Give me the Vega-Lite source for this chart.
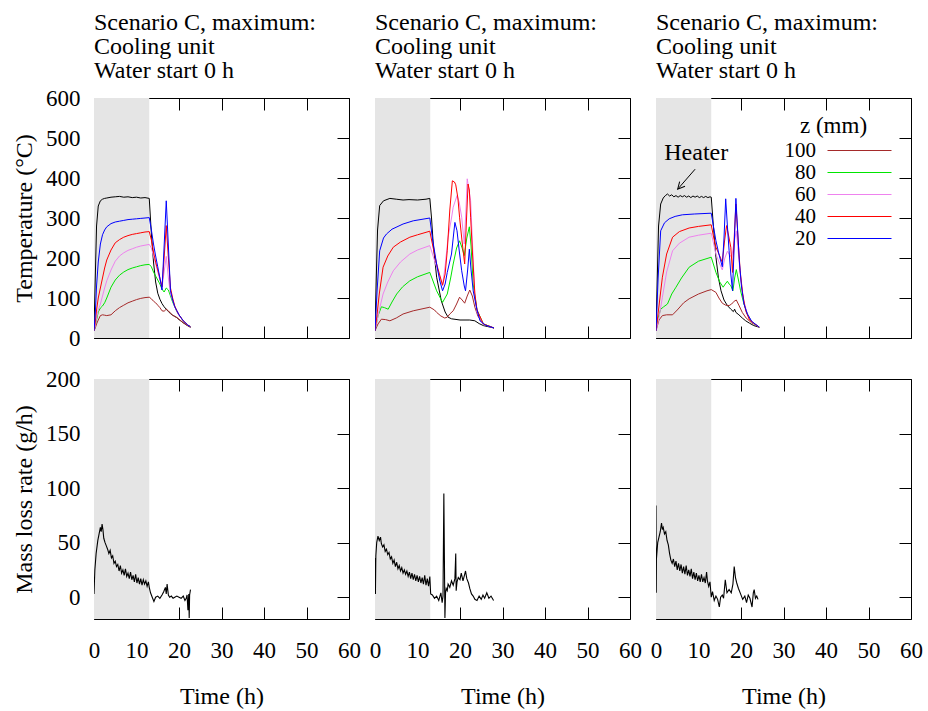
{
"$schema":"https://vega.github.io/schema/vega-lite/v6.json",
"background":"white",
"padding":{"left":12,"top":10,"right":0,"bottom":0},
"config":{
 "font":"Liberation Serif",
 "view":{"stroke":"black","strokeWidth":1},
 "axis":{"domain":false,"grid":false,"tickSize":-12,"tickColor":"black","tickWidth":1,"labelFont":"Liberation Serif","labelFontSize":23,"labelColor":"black","titleFont":"Liberation Serif","titleFontSize":24,"titleFontWeight":"normal","titleColor":"black","labelFlush":false,"labelOverlap":false},
 "title":{"fontSize":24,"fontWeight":"normal","anchor":"start","frame":"group","lineHeight":24,"offset":15,"color":"black","font":"Liberation Serif"}
},
"datasets":{
 "temp":[
  {"p":1,"s":"Heater","t":[0,0.3,0.6,1,1.5,2,2.5,3,4,5,6,7,8,9,10,11,12,13,13.5,14,14.5,15,15.5,16,16.5,17,17.5,18,18.5,19,19.5,20,21,22,22.7],"v":[22,150,280,330,343,347,349,350,352,353,354,352,353,351,352,350,351,349,260,190,140,112,97,86,78,72,66,61,57,54,51,46,38,31,27]},
  {"p":1,"s":"100","t":[0,0.3,0.6,1,1.5,2,2.5,3,4,5,6,7,8,9,10,11,12,13,13.5,14,14.5,15,15.5,16,16.5,17,17.5,18,18.5,19,19.5,20,21,22,22.7],"v":[18,25,35,45,56,58,57,56,58,68,76,82,88,92,96,99,101,102,98,92,88,82,76,68,67,72,68,62,57,54,51,47,38,31,27]},
  {"p":1,"s":"80","t":[0,0.3,0.6,1,1.5,2,2.5,3,4,5,6,7,8,9,10,11,12,13,13.5,14,14.5,15,15.5,16,16.5,17,17.5,18,18.5,19,19.5,20,21,22,22.7],"v":[18,30,45,65,75,80,88,100,127,145,157,165,171,175,178,181,183,184,178,165,155,145,135,122,115,125,120,105,90,78,66,57,43,33,28]},
  {"p":1,"s":"60","t":[0,0.3,0.6,1,1.5,2,2.5,3,4,5,6,7,8,9,10,11,12,13,13.5,14,14.5,15,15.5,16,16.5,17,17.5,18,18.5,19,19.5,20,21,22,22.7],"v":[18,30,50,70,85,105,125,143,170,192,205,213,219,223,227,230,232,234,225,205,185,165,145,127,165,204,150,110,95,78,66,56,43,33,28]},
  {"p":1,"s":"40","t":[0,0.3,0.6,1,1.5,2,2.5,3,4,5,6,7,8,9,10,11,12,13,13.5,14,14.5,15,15.5,16,16.5,17,17.5,18,18.5,19,19.5,20,21,22,22.7],"v":[18,40,70,100,125,150,175,195,220,238,246,252,256,259,261,263,265,266,245,215,190,170,150,128,200,281,200,125,100,80,68,58,43,33,28]},
  {"p":1,"s":"20","t":[0,0.3,0.6,1,1.5,2,2.5,3,4,5,6,7,8,9,10,11,12,13,13.5,14,14.5,15,15.5,16,16.5,17,17.5,18,18.5,19,19.5,20,21,22,22.7],"v":[18,60,130,190,235,258,270,278,286,290,292,294,296,297,298,299,300,301,270,235,205,178,150,120,230,343,230,118,95,78,68,58,43,33,28]},
  {"p":2,"s":"Heater","t":[0,0.3,0.6,1.1,2,3.5,5,6.6,8,10,12,12.9,13.3,13.7,14.5,15.6,16.5,17.2,18,20,22.3,23.5,24.5,25.5,28],"v":[20,150,270,331,343,349,347,345,346,345,347,349,300,235,152,93,65,52,48,45,45,43,36,31,25]},
  {"p":2,"s":"100","t":[0,0.7,1.5,2.5,3.5,5,6.6,9,12.9,14,14.5,15.5,16.4,17,17.6,18.4,19.2,19.9,20.5,21.1,21.7,22.3,22.9,23.5,24.2,25.5,28],"v":[18,35,47,46,43,50,60,68,77,70,64,55,50,52,60,68,85,102,95,87,105,120,105,77,55,35,25]},
  {"p":2,"s":"80","t":[0,0.7,1.5,2.2,3.1,4,5.1,6.5,8.2,10,12.9,14.5,15.9,17,17.8,18.4,19.2,19.9,20.5,21,21.6,22.2,22.6,23.1,24,25.5,28],"v":[18,55,78,76,72,90,110,128,143,153,164,118,89,110,150,185,225,243,225,206,250,278,230,135,70,35,25]},
  {"p":2,"s":"60","t":[0,1,1.9,3,4.3,6,8.2,10,12.9,14.5,15.9,16.5,17.2,18,18.4,19.3,19.8,20.4,21,21.4,21.7,22.1,22.5,23,23.5,24,25.5,28],"v":[18,70,110,140,168,190,210,220,231,177,131,180,252,300,327,356,340,302,235,320,398,370,343,220,102,65,34,25]},
  {"p":2,"s":"40","t":[0,0.5,1,1.9,3,4.3,6,8.2,10,12.9,13.5,14.5,15.9,16.5,17,17.6,18.2,18.7,19,19.5,19.9,20.5,21.1,21.5,21.9,22.2,22.5,23,23.5,24,25.5,28],"v":[18,60,110,177,205,227,240,252,258,267,235,185,132,160,218,320,393,390,383,350,302,240,185,290,385,370,302,200,110,70,35,25]},
  {"p":2,"s":"20","t":[0,0.5,1.1,2,2.7,4,6.6,9,12.9,13.5,14.5,15.2,15.9,16.5,17,18,18.5,18.8,19.3,19.8,20.4,21,21.3,21.8,22.2,22.6,23.1,24,24.7,26,28],"v":[18,120,218,250,260,272,285,293,300,250,185,145,118,135,164,210,260,289,268,220,168,130,118,170,222,170,118,70,43,32,25]},
  {"p":3,"s":"Heater","t":[0,0.3,0.6,1.1,1.7,2.2,2.7,3.2,3.7,4.2,4.7,5.2,5.7,6.2,6.7,7.2,7.7,8.2,8.7,9.2,9.7,10.2,10.7,11.2,11.7,12.2,12.7,13,13.5,14.1,14.7,15.3,16,16.8,17.6,18.2,18.5,18.8,19.5,20.3,21.1,22,23,24.3],"v":[20,150,280,335,350,356,360,355,358,353,356,352,356,353,356,352,355,351,355,352,355,351,354,351,354,351,353,352,280,202,150,118,95,81,72,66,72,64,58,50,43,37,31,27]},
  {"p":3,"s":"100","t":[0,0.7,1.5,2.5,3.9,5,6.5,7.8,10,12,13,14.1,14.8,15.6,16.4,17.2,17.8,18.4,18.9,19.5,20.3,21.2,22.5,24.3],"v":[18,45,56,58,58,70,88,98,110,118,121,114,100,87,82,81,85,92,95,82,64,50,38,27]},
  {"p":3,"s":"80","t":[0,0.5,1.1,1.8,2.7,3.7,4.7,6,7.8,10,13,14.1,15,15.8,16.3,16.8,17.2,17.6,18.1,18.5,18.9,19.4,19.9,20.7,21.5,22.5,24.3],"v":[18,50,72,78,85,110,127,150,177,192,202,164,140,127,135,142,135,131,118,150,171,145,118,85,60,40,27]},
  {"p":3,"s":"60","t":[0,0.7,1.5,2.5,3.9,5.5,7.8,10,13,14.1,15,15.6,16.2,16.8,17.3,17.8,18.4,18.9,19.4,19.9,20.6,21.5,22.5,24.3],"v":[18,50,102,165,218,237,252,257,262,210,185,170,200,217,208,202,240,268,210,152,95,60,40,27]},
  {"p":3,"s":"40","t":[0,0.7,1.5,2.5,3.9,5.5,7.8,10,13,13.5,14.1,15,15.6,16.1,16.6,17.1,17.6,18,18.4,18.8,19.3,19.8,20.4,21.1,22,24.3],"v":[18,80,152,210,252,266,275,279,283,255,227,205,189,240,281,255,227,164,250,335,250,168,110,68,45,27]},
  {"p":3,"s":"20","t":[0,0.5,1.1,2,3.1,4.5,6.2,9,13,13.5,14.1,14.8,15.6,16,16.4,16.8,17.2,17.6,18,18.4,18.8,19.2,19.6,20.1,20.7,21.5,22.5,24.3],"v":[18,150,268,288,298,304,308,310,312,280,243,210,178,250,348,280,218,160,118,230,349,270,193,130,85,60,42,27]}
 ],
 "mass":[
  {"p":1,"t":[0,0.2,0.5,0.9,1.2,1.5,1.7,1.9,2.1,2.3,2.6,2.9,3.2,3.5,3.8,4.1,4.4,4.7,5.0,5.3,5.6,5.9,6.2,6.5,6.8,7.1,7.4,7.7,8.0,8.3,8.6,8.9,9.2,9.5,9.8,10.1,10.4,10.7,11.0,11.3,11.6,11.9,12.2,12.5,12.8,13.0,13.3,13.7,14.1,14.5,15.0,15.5,16.0,16.4,16.8,17.0,17.2,17.5,17.8,18.2,18.6,19.0,19.5,20.0,20.5,21.0,21.4,21.7,21.9,22.1,22.3,22.4,22.5,22.7],"v":[3,25,40,52,58,64,60,67,62,54,50,47,44,40,43,36,38,31,33,28,30,24,29,22,25,20,26,19,22,17,23,16,20,14,21,13,18,12,17,11,16,12,15,10,14,9,4,0,-4,0,1,-1,2,5,9,3,12,2,0,1,-1,0,1,0,-1,1,-3,-1,2,-12,3,-19,2,7]},
  {"p":2,"t":[0,0.1,0.2,0.4,0.7,1.0,1.3,1.5,1.8,2.1,2.4,2.7,3.0,3.3,3.6,3.9,4.2,4.5,4.8,5.1,5.4,5.7,6.0,6.3,6.6,6.9,7.2,7.5,7.8,8.1,8.4,8.7,9.0,9.3,9.6,9.9,10.2,10.5,10.8,11.1,11.4,11.7,12.0,12.3,12.6,12.9,13.1,13.5,14.0,14.5,15.0,15.5,15.8,16.0,16.2,16.45,16.6,16.75,17.0,17.2,17.6,18.0,18.4,18.8,19.0,19.1,19.3,19.6,20.0,20.3,20.7,21.1,21.3,21.6,22.0,22.3,22.7,23.1,23.5,24.0,24.5,25.0,25.4,25.8,26.3,26.8,27.3,27.9],"v":[36,3,38,50,56,52,55,49,46,48,42,44,39,41,35,37,31,34,28,32,26,29,24,27,22,25,21,24,19,23,17,22,16,21,15,20,14,19,13,18,12,20,11,17,10,19,3,2,-1,1,-3,4,-5,1,95,-19,4,8,6,12,9,15,11,17,40,6,14,18,16,22,15,21,24,17,13,8,3,1,-2,-3,1,-2,2,-1,4,-1,1,-3]},
  {"p":3,"t":[0,0.05,0.1,0.4,0.7,1.0,1.3,1.5,1.7,2.0,2.3,2.6,2.9,3.2,3.5,3.8,4.1,4.4,4.7,5.0,5.3,5.6,5.9,6.2,6.5,6.8,7.1,7.4,7.7,8.0,8.3,8.6,8.9,9.2,9.5,9.8,10.1,10.4,10.7,11.0,11.3,11.6,11.9,12.1,12.4,12.7,13.0,13.3,13.7,14.1,14.5,14.9,15.2,15.6,15.9,16.3,16.7,17.2,17.7,18.1,18.4,18.7,19.0,19.4,19.9,20.4,20.9,21.3,21.7,22.1,22.6,22.9,23.1,23.4,23.7,24.0],"v":[84,4,35,50,55,60,68,62,64,58,60,52,48,40,34,31,35,28,33,25,31,24,30,22,28,21,29,20,25,19,26,17,23,16,22,15,20,14,21,14,18,13,23,15,10,14,0,5,-3,1,-2,-9,0,2,-1,16,4,7,4,12,28,18,13,8,3,-2,1,-5,2,-1,-9,4,7,-1,1,-2]}
 ]
},
"spacing":16,
"resolve":{"legend":{"color":"independent"}},
"vconcat":[
 {"hconcat":[
  {"width":255,"height":240,"title":{"text":["Scenario C, maximum:","Cooling unit","Water start 0 h"],"offset":4},
   "layer":[
    {"data":{"values":[{"a":0,"b":13}]},"mark":{"type":"rect","color":"#e5e5e5"},"encoding":{"x":{"field":"a","type":"quantitative","scale":{"domain":[0,60],"nice":false},"axis":null},"x2":{"field":"b"}}},
    {"data":{"name":"temp"},"transform":[{"filter":"datum.p==1"},{"flatten":["t","v"]}],"mark":{"type":"line","strokeWidth":1,"clip":true},
     "encoding":{"x":{"field":"t","type":"quantitative","scale":{"domain":[0,60],"nice":false},"axis":{"orient":"bottom","labels":false,"title":null,"values":[0,10,20,30,40,50,60]}},
      "y":{"field":"v","type":"quantitative","scale":{"domain":[0,600],"nice":false},"axis":{"orient":"left","title":"Temperature (°C)","values":[0,100,200,300,400,500,600],"labelPadding":26,"titlePadding":9}},
      "color":{"field":"s","type":"nominal","scale":{"domain":["Heater","100","80","60","40","20"],"range":["#000000","#a52a2a","#00e600","#ee82ee","#ff0000","#0000ff"]},"legend":null}}},
    {"data":{"values":[{"t":0,"v":0}]},"mark":{"type":"point","opacity":0},
     "encoding":{"x":{"field":"t","type":"quantitative","scale":{"domain":[0,60],"nice":false},"axis":{"orient":"top","labels":false,"title":null,"values":[0,10,20,30,40,50,60]}},
      "y":{"field":"v","type":"quantitative","scale":{"domain":[0,600],"nice":false},"axis":{"orient":"right","labels":false,"title":null,"values":[0,100,200,300,400,500,600]}}}}
   ],
   "resolve":{"axis":{"x":"independent","y":"independent"}}},
  {"width":255,"height":240,"title":{"text":["Scenario C, maximum:","Cooling unit","Water start 0 h"]},
   "layer":[
    {"data":{"values":[{"a":0,"b":13}]},"mark":{"type":"rect","color":"#e5e5e5"},"encoding":{"x":{"field":"a","type":"quantitative","scale":{"domain":[0,60],"nice":false},"axis":null},"x2":{"field":"b"}}},
    {"data":{"name":"temp"},"transform":[{"filter":"datum.p==2"},{"flatten":["t","v"]}],"mark":{"type":"line","strokeWidth":1,"clip":true},
     "encoding":{"x":{"field":"t","type":"quantitative","scale":{"domain":[0,60],"nice":false},"axis":{"orient":"bottom","labels":false,"title":null,"values":[0,10,20,30,40,50,60]}},
      "y":{"field":"v","type":"quantitative","scale":{"domain":[0,600],"nice":false},"axis":{"orient":"left","labels":false,"title":null,"values":[0,100,200,300,400,500,600]}},
      "color":{"field":"s","type":"nominal","scale":{"domain":["Heater","100","80","60","40","20"],"range":["#000000","#a52a2a","#00e600","#ee82ee","#ff0000","#0000ff"]},"legend":null}}},
    {"data":{"values":[{"t":0,"v":0}]},"mark":{"type":"point","opacity":0},
     "encoding":{"x":{"field":"t","type":"quantitative","scale":{"domain":[0,60],"nice":false},"axis":{"orient":"top","labels":false,"title":null,"values":[0,10,20,30,40,50,60]}},
      "y":{"field":"v","type":"quantitative","scale":{"domain":[0,600],"nice":false},"axis":{"orient":"right","labels":false,"title":null,"values":[0,100,200,300,400,500,600]}}}}
   ],
   "resolve":{"axis":{"x":"independent","y":"independent"}}},
  {"width":255,"height":240,"title":{"text":["Scenario C, maximum:","Cooling unit","Water start 0 h"]},
   "layer":[
    {"data":{"values":[{"a":0,"b":13}]},"mark":{"type":"rect","color":"#e5e5e5"},"encoding":{"x":{"field":"a","type":"quantitative","scale":{"domain":[0,60],"nice":false},"axis":null},"x2":{"field":"b"}}},
    {"data":{"name":"temp"},"transform":[{"filter":"datum.p==3"},{"flatten":["t","v"]}],"mark":{"type":"line","strokeWidth":1,"clip":true},
     "encoding":{"x":{"field":"t","type":"quantitative","scale":{"domain":[0,60],"nice":false},"axis":{"orient":"bottom","labels":false,"title":null,"values":[0,10,20,30,40,50,60]}},
      "y":{"field":"v","type":"quantitative","scale":{"domain":[0,600],"nice":false},"axis":{"orient":"left","labels":false,"title":null,"values":[0,100,200,300,400,500,600]}},
      "color":{"field":"s","type":"nominal","scale":{"domain":["Heater","100","80","60","40","20"],"range":["#000000","#a52a2a","#00e600","#ee82ee","#ff0000","#0000ff"]},
       "legend":{"values":["100","80","60","40","20"],"orient":"none","legendX":144,"legendY":17,"title":"z (mm)","titleFontSize":23,"titleFontWeight":"normal","titleFont":"Liberation Serif","titleColor":"black","labelFontSize":21,"labelFont":"Liberation Serif","labelColor":"black","symbolType":"M-4,0L4,0","symbolSize":256,"symbolStrokeWidth":1,"symbolOffset":49,"labelAlign":"right","labelOffset":-54,"rowPadding":0,"padding":0,"titlePadding":2}}}},
    {"data":{"values":[{"t":0,"v":0}]},"mark":{"type":"point","opacity":0},
     "encoding":{"x":{"field":"t","type":"quantitative","scale":{"domain":[0,60],"nice":false},"axis":{"orient":"top","labels":false,"title":null,"values":[0,10,20,30,40,50,60]}},
      "y":{"field":"v","type":"quantitative","scale":{"domain":[0,600],"nice":false},"axis":{"orient":"right","labels":false,"title":null,"values":[0,100,200,300,400,500,600]}}}},
    {"data":{"values":[{"t":9.2,"v":422,"t2":5.1,"v2":372}]},"mark":{"type":"rule","color":"black","strokeWidth":1},
     "encoding":{"x":{"field":"t","type":"quantitative","scale":{"domain":[0,60],"nice":false},"axis":null},"y":{"field":"v","type":"quantitative","scale":{"domain":[0,600],"nice":false},"axis":null},"x2":{"field":"t2"},"y2":{"field":"v2"}}},
    {"data":{"values":[{"t":5.1,"v":372}]},"mark":{"type":"point","shape":"M-0.5,1L0,0L0.5,1","size":200,"angle":221,"filled":false,"color":"black","strokeWidth":1,"opacity":1},
     "encoding":{"x":{"field":"t","type":"quantitative","scale":{"domain":[0,60],"nice":false},"axis":null},"y":{"field":"v","type":"quantitative","scale":{"domain":[0,600],"nice":false},"axis":null}}},
    {"data":{"values":[{"t":1.95,"v":462,"label":"Heater"}]},"mark":{"type":"text","align":"left","baseline":"middle","fontSize":24,"font":"Liberation Serif","color":"black"},
     "encoding":{"x":{"field":"t","type":"quantitative","scale":{"domain":[0,60],"nice":false},"axis":null},"y":{"field":"v","type":"quantitative","scale":{"domain":[0,600],"nice":false},"axis":null},"text":{"field":"label"}}}
   ],
   "resolve":{"axis":{"x":"independent","y":"independent"}}}
 ],"spacing":26,"bounds":"flush","resolve":{"legend":{"color":"independent"}}},
 {"hconcat":[
  {"width":255,"height":240,
   "layer":[
    {"data":{"values":[{"a":0,"b":13}]},"mark":{"type":"rect","color":"#e5e5e5"},"encoding":{"x":{"field":"a","type":"quantitative","scale":{"domain":[0,60],"nice":false},"axis":null},"x2":{"field":"b"}}},
    {"data":{"name":"mass"},"transform":[{"filter":"datum.p==1"},{"flatten":["t","v"]}],"mark":{"type":"line","strokeWidth":1.1,"color":"black","clip":true},
     "encoding":{"x":{"field":"t","type":"quantitative","scale":{"domain":[0,60],"nice":false},"axis":{"orient":"bottom","title":"Time (h)","values":[0,10,20,30,40,50,60],"labelPadding":32,"titlePadding":22}},
      "y":{"field":"v","type":"quantitative","scale":{"domain":[-20,200],"nice":false},"axis":{"orient":"left","title":"Mass loss rate (g/h)","values":[0,50,100,150,200],"labelPadding":26,"titlePadding":9}}}},
    {"data":{"values":[{"t":0,"v":0}]},"mark":{"type":"point","opacity":0},
     "encoding":{"x":{"field":"t","type":"quantitative","scale":{"domain":[0,60],"nice":false},"axis":{"orient":"top","labels":false,"title":null,"values":[0,10,20,30,40,50,60]}},
      "y":{"field":"v","type":"quantitative","scale":{"domain":[-20,200],"nice":false},"axis":{"orient":"right","labels":false,"title":null,"values":[0,50,100,150,200]}}}}
   ],
   "resolve":{"axis":{"x":"independent","y":"independent"}}},
  {"width":255,"height":240,
   "layer":[
    {"data":{"values":[{"a":0,"b":13}]},"mark":{"type":"rect","color":"#e5e5e5"},"encoding":{"x":{"field":"a","type":"quantitative","scale":{"domain":[0,60],"nice":false},"axis":null},"x2":{"field":"b"}}},
    {"data":{"name":"mass"},"transform":[{"filter":"datum.p==2"},{"flatten":["t","v"]}],"mark":{"type":"line","strokeWidth":1.1,"color":"black","clip":true},
     "encoding":{"x":{"field":"t","type":"quantitative","scale":{"domain":[0,60],"nice":false},"axis":{"orient":"bottom","title":"Time (h)","values":[0,10,20,30,40,50,60],"labelPadding":32,"titlePadding":22}},
      "y":{"field":"v","type":"quantitative","scale":{"domain":[-20,200],"nice":false},"axis":{"orient":"left","labels":false,"title":null,"values":[0,50,100,150,200]}}}},
    {"data":{"values":[{"t":0,"v":0}]},"mark":{"type":"point","opacity":0},
     "encoding":{"x":{"field":"t","type":"quantitative","scale":{"domain":[0,60],"nice":false},"axis":{"orient":"top","labels":false,"title":null,"values":[0,10,20,30,40,50,60]}},
      "y":{"field":"v","type":"quantitative","scale":{"domain":[-20,200],"nice":false},"axis":{"orient":"right","labels":false,"title":null,"values":[0,50,100,150,200]}}}}
   ],
   "resolve":{"axis":{"x":"independent","y":"independent"}}},
  {"width":255,"height":240,
   "layer":[
    {"data":{"values":[{"a":0,"b":13}]},"mark":{"type":"rect","color":"#e5e5e5"},"encoding":{"x":{"field":"a","type":"quantitative","scale":{"domain":[0,60],"nice":false},"axis":null},"x2":{"field":"b"}}},
    {"data":{"name":"mass"},"transform":[{"filter":"datum.p==3"},{"flatten":["t","v"]}],"mark":{"type":"line","strokeWidth":1.1,"color":"black","clip":true},
     "encoding":{"x":{"field":"t","type":"quantitative","scale":{"domain":[0,60],"nice":false},"axis":{"orient":"bottom","title":"Time (h)","values":[0,10,20,30,40,50,60],"labelPadding":32,"titlePadding":22}},
      "y":{"field":"v","type":"quantitative","scale":{"domain":[-20,200],"nice":false},"axis":{"orient":"left","labels":false,"title":null,"values":[0,50,100,150,200]}}}},
    {"data":{"values":[{"t":0,"v":0}]},"mark":{"type":"point","opacity":0},
     "encoding":{"x":{"field":"t","type":"quantitative","scale":{"domain":[0,60],"nice":false},"axis":{"orient":"top","labels":false,"title":null,"values":[0,10,20,30,40,50,60]}},
      "y":{"field":"v","type":"quantitative","scale":{"domain":[-20,200],"nice":false},"axis":{"orient":"right","labels":false,"title":null,"values":[0,50,100,150,200]}}}}
   ],
   "resolve":{"axis":{"x":"independent","y":"independent"}}}
 ],"spacing":26,"bounds":"flush"}
]
}
